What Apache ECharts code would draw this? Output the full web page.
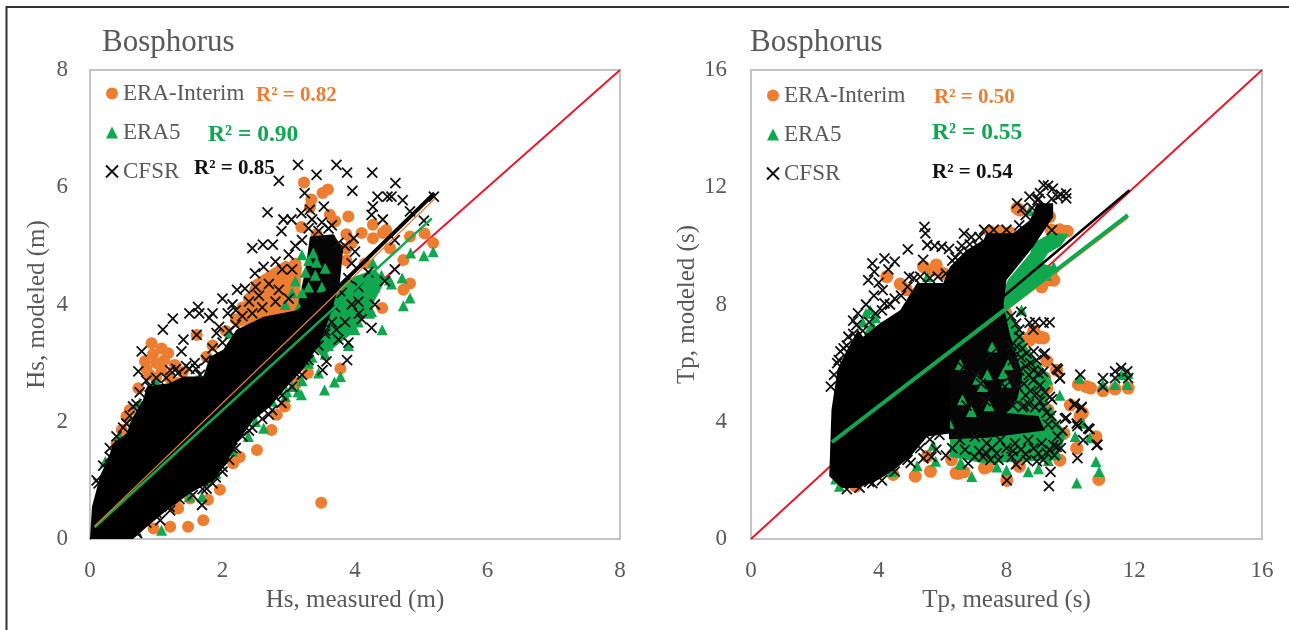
<!DOCTYPE html>
<html>
<head>
<meta charset="utf-8">
<style>
  html, body { margin: 0; padding: 0; background: #fff; }
  #chart { width: 1289px; height: 630px; filter: blur(0.4px); }
</style>
<script src="https://cdn.jsdelivr.net/npm/echarts@6/dist/echarts.min.js"></script>
</head>
<body>
<div id="chart"></div>
<script>
// Values, [measured, modeled]
const seriesNames = ['ERA-Interim', 'ERA5', 'CFSR'];
const hsTicks = [0, 2, 4, 6, 8];
const tpTicks = [0, 4, 8, 12, 16];

const hsEraInterim = [
  [3.23,6.08],[3.51,5.9],[3.59,5.96],[3.34,5.79],[3.32,5.66],[3.9,5.5],[3.62,5.53],[3.7,5.42],[3.19,5.32],[4.1,5.22],
  [4.27,5.36],[4.47,5.27],[4.27,5.13],[4.53,4.96],[5.05,5.21],[5.18,5.05],[4.83,5.16],[4.73,4.76],[4.83,4.36],[4.73,4.25],
  [4.41,3.94],[3.87,5.2],[3.95,5.05],[3.87,4.95],[3.87,4.75],[3.42,5.2],[4.42,5.22],[4.15,4.7],[3.0,4.62],[2.9,4.4],
  [3.1,4.7],[2.95,4.55],[3.05,4.45],[2.75,4.4],[2.55,4.2],[2.72,4.05],[2.45,3.95],[2.6,4.35],[2.4,4.1],[2.65,4.15],
  [3.49,0.62],[2.52,1.52],[2.74,1.86],[2.82,2.12],[2.94,2.26],[3.12,2.66],[2.26,1.4],[2.16,1.29],[1.96,0.84],[1.71,0.32],
  [1.48,0.21],[1.78,0.67],[1.51,0.69],[1.33,0.52],[1.28,0.64],[1.21,0.21],[0.96,0.18],[3.78,2.91],[3.49,3.27],[3.29,2.83],
  [0.93,3.34],[1.08,3.25],[1.18,3.17],[0.83,3.03],[1.0,3.0],[0.9,2.8],[1.08,2.88],[0.73,2.57],[1.28,2.97],[1.31,2.66],
  [0.95,3.15],[0.85,2.9],[1.12,3.05],[1.0,2.75],[1.2,2.75],[1.4,2.85],[0.55,2.09],[0.48,1.86],[0.4,1.63],[0.6,2.2],
  [1.76,3.11],[1.61,3.48],[1.85,3.3],[2.05,3.55],[2.2,3.75],[2.3,3.95]
];
const hsEra5 = [
  [5.18,4.9],[5.04,4.83],[4.84,4.88],[4.71,4.45],[4.83,4.11],[4.73,3.98],[4.52,4.42],[4.27,4.71],[4.25,3.88],[4.0,3.85],
  [4.22,3.85],[4.41,3.57],[4.0,3.57],[4.55,4.35],[4.3,4.3],[4.4,4.5],[4.1,4.2],[3.95,4.1],[4.2,4.35],[4.05,3.7],
  [3.37,4.88],[3.3,4.75],[3.2,4.85],[3.25,4.55],[3.1,4.4],[3.05,4.2],[3.2,4.2],[3.4,4.5],[3.5,4.3],[3.6,4.15],
  [3.3,4.3],[3.7,3.95],[3.85,3.9],[3.15,3.95],[3.45,4.05],[2.95,4.0],[3.55,4.62],[3.42,4.72],
  [3.54,2.54],[3.78,2.77],[3.69,2.68],[3.19,2.46],[2.95,2.43],[3.05,2.6],[3.14,2.51],[2.97,2.51],[2.62,1.89],[2.39,1.75],
  [0.23,1.32],[3.45,2.83],[1.08,0.15],[0.7,0.15],[1.69,0.72],[1.76,1.0],[0.75,2.32],[0.65,2.0],[2.11,3.51],[1.0,2.68],
  [1.6,2.71],[3.04,2.83],[3.27,3.45],[3.3,3.0],[3.55,3.15],[2.85,2.55],[3.2,2.7],[0.2,1.1],[0.45,1.75],[1.5,0.72],
  [1.9,1.12],[2.15,1.5],[2.5,2.0],[2.75,2.35],[3.35,3.1],[3.6,3.3],[3.72,3.55],[3.9,3.3]
];
const hsCfsr = [
  [3.14,6.38],[3.72,6.38],[3.42,6.21],[3.88,6.25],[4.26,6.25],[2.85,6.11],[4.61,6.07],[3.96,5.94],[3.24,5.9],[4.34,5.84],
  [4.49,5.84],[4.55,5.84],[4.72,5.78],[5.19,5.84],[3.53,5.67],[4.27,5.67],[4.25,5.53],[4.42,5.45],[5.04,5.43],[4.83,5.59],
  [2.68,5.57],[3.32,5.62],[3.19,5.56],[2.92,5.45],[3.04,5.45],[2.89,5.25],[2.45,4.96],[2.61,5.02],[2.76,5.02],[3.98,5.13],
  [3.35,5.45],[3.5,5.4],[3.65,5.35],[3.3,5.3],[3.45,5.25],[3.6,5.3],[3.75,5.05],[3.85,5.0],[3.2,5.1],[3.1,5.0],
  [3.0,4.85],[2.9,4.6],[3.95,4.7],[3.9,4.45],[4.0,4.9],[3.05,4.6],[2.8,4.73],[2.7,4.35],[2.62,4.64],[2.49,4.53],
  [2.5,4.3],[2.34,4.27],[2.22,4.25],[2.0,4.1],[2.55,4.15],[2.4,4.05],[2.85,4.25],[2.15,4.0],[1.85,3.85],
  [1.25,3.76],[1.5,3.85],[1.63,3.96],[1.65,3.85],[1.8,3.77],[2.08,3.85],[1.1,3.57],[1.41,3.4],[1.38,3.2],[0.78,3.2],
  [0.73,2.86],[1.61,3.48],[1.91,3.51],[1.58,3.0],[1.21,2.88],[1.33,2.83],[1.66,2.8],[1.5,2.9],[0.9,2.6],[1.03,2.57],
  [0.65,2.26],[0.55,1.97],[0.13,0.95],[1.76,0.86],[1.69,0.58],[1.21,0.49],[1.06,0.32],[0.71,0.1],[0.45,1.6],[0.3,1.4],
  [3.88,3.05],[3.57,3.03],[3.51,2.88],[3.72,3.57],[4.06,3.85],[3.23,3.05],[3.38,3.22],[3.1,2.83],[2.89,2.32],[2.7,2.12],
  [2.4,1.85],[2.15,1.55],[2.0,1.23],[1.9,1.05],[4.2,4.55],[4.05,4.3],[4.6,4.6],[4.25,3.6],[3.9,3.35],[3.75,3.4],
  [3.55,3.55],[3.4,3.4],[3.85,3.7],[4.05,4.05],[4.45,4.4],[4.6,5.1],[4.3,4.0],
  // upper edge of the cloud
  [0.1,1.0],[0.2,1.25],[0.3,1.55],[0.4,1.75],[0.5,1.9],[0.6,2.1],[0.7,2.3],[0.75,2.5],[0.85,2.7],[1.0,2.75],
  [1.15,2.75],[1.3,2.9],[1.45,2.95],[1.6,2.9],[1.75,3.05],[1.85,3.25],[2.0,3.35],[2.1,3.55],[2.2,3.65],[2.3,3.8],
  [2.45,3.85],[2.6,3.95],[2.8,4.05],[3.0,4.1],[1.95,3.62],[2.2,3.9],
  // lower edge of the cloud
  [0.7,0.12],[0.85,0.28],[1.0,0.45],[1.2,0.55],[1.35,0.68],[1.55,0.75],[1.7,0.85],[1.85,0.95],[2.0,1.15],[2.1,1.35],
  [2.2,1.55],[2.3,1.75],[2.45,1.9],[2.6,2.05],[2.75,2.2],[2.9,2.45],[3.05,2.6],[3.2,2.8],[3.3,3.05],[3.45,3.3],
  [3.55,3.5],[3.65,3.7],[3.7,3.95],[3.8,4.2],[3.95,4.0],[4.1,3.75]
];
// outlines of the saturated parts of the cloud, where single marks cannot be told apart
const hsCore = [
  [0,0],[0.03,0.55],[0.15,1.06],[0.3,1.46],[0.35,1.63],[0.55,1.8],[0.65,2.09],[0.8,2.37],[0.86,2.6],[1.21,2.66],
  [1.41,2.77],[1.71,2.77],[1.81,3.11],[2.01,3.23],[2.21,3.57],[2.62,3.79],[3.12,3.9],[3.4,4.15],[3.77,4.36],[3.62,3.8],
  [3.47,3.34],[3.22,2.9],[3.02,2.66],[2.72,2.26],[2.47,2.03],[2.21,1.63],[2.06,1.29],[1.86,1.0],[1.51,0.78],[1.16,0.49],
  [0.86,0.21],[0.65,0]
];
const hsUpperDark = [[3.12,3.9],[3.25,4.59],[3.32,5.16],[3.68,5.2],[3.82,4.93],[3.77,4.36],[3.52,4.08]];
const hsUpperOrange = [[2.2,3.6],[2.45,4.4],[2.95,4.75],[3.2,4.65],[3.15,3.9]];
const hsLowerGreen = [[3.3,3.4],[3.8,4.4],[4.3,4.6],[4.45,4.4],[4.2,3.85],[3.95,3.5],[3.5,3.1]];

const tpEraInterim = [
  [10.89,2.03],[10.2,3.1],[9.67,2.69],[10.8,3.49],[10.5,5.2],[10.25,5.27],[10.63,5.15],[11.02,5.06],[11.4,5.12],[11.81,5.15],
  [10.38,4.3],[10.0,4.57],[10.3,4.2],[9.05,6.86],[9.16,6.86],[8.73,6.79],[8.47,6.73],[9.26,6.07],[9.57,5.76],[9.26,5.14],
  [6.42,2.25],[6.67,2.29],[6.5,2.24],[7.37,2.48],[7.4,2.47],[5.14,2.14],[5.62,2.31],[3.28,1.8],[8.01,2.0],[8.4,2.48],
  [6.28,2.7],[5.52,2.82],[7.31,2.42],[4.45,2.2],[9.48,8.83],[9.36,8.84],[9.1,8.6],[9.4,9.06],[8.33,11.28],[8.42,11.22],
  [9.67,10.55],[9.9,10.5],[9.4,10.54],[7.48,10.49],[7.79,10.49],[8.1,10.45],[5.7,9.18],[5.4,9.29],[6.02,9.06],[5.8,9.35],
  [4.25,8.95],[4.67,8.7],[4.87,8.5],[9.35,11],[7.98,7.7],[7.8,7.25],[9.05,6.89],[8.74,6.89],[8.85,7.1],[9.2,5.5],[9.3,4.4],[9.8,3.6]
];
const tpEra5 = [
  [10.2,1.91],[10.9,2.3],[10.8,2.64],[6.91,2.13],[8.0,2.35],[8.68,2.29],[9.0,2.4],[7.7,2.46],[9.31,2.68],[6.55,2.58],
  [9.57,2.92],[10.15,3.5],[10.6,3.45],[9.67,4.9],[9.36,4.4],[9.3,5.45],[8.47,7.81],[10.28,5.48],[11.78,5.27],[11.4,5.27],
  [11.02,5.27],[11.6,5.6],[11.8,5.65],[6.03,4.02],[5.9,3.95],[6.2,3.95],[2.77,1.8],[5.78,2.65],[6.6,2.54],[3.73,7.81],
  [3.5,7.4],[3.8,7.3],[3.6,7.7],[3.9,7.55],[3.7,7.15],[9.48,9.29],[8.72,11.2],[5.52,8.95],[9.25,9.0],
  [7.1,5.45],[7.25,5.2],[7.4,5.6],[8.0,5.35],[8.05,5.95],[7.9,5.65],[8.42,4.5],[8.6,4.72],[6.62,4.75],[6.9,4.35],
  [6.55,5.95],[7.55,6.55],[7.45,4.55],[6.5,3.2],[5.7,3.2],[4.4,2.3],[5.2,2.5],[3.2,1.95],[8.35,6.65],[10.4,3.95],[2.65,2.05]
];
const tpCfsr = [
  [9.33,1.8],[9.38,2.29],[10.22,2.76],[8.01,2.0],[10.85,3.22],[10.6,3.75],[10.22,3.85],[9.87,4.13],[10.12,4.58],[10.34,4.47],
  [10.31,5.61],[11.02,5.49],[11.02,5.2],[11.4,5.49],[11.59,5.84],[11.78,5.72],[11.4,5.72],[11.81,5.49],[9.67,5.49],[9.61,5.78],
  [9.42,4.76],[9.16,6.29],[8.72,7.37],[8.4,7.14],[9.16,7.37],[9.35,7.39],[8.84,7.14],[2.8,6.4],[3.8,1.91],
  [9.16,12.07],[9.3,12.05],[9.45,11.95],[9.87,11.79],[9.87,11.62],[9.7,11.75],[8.72,11.68],[8.33,11.45],[8.5,11.3],[8.97,11.56],
  [9.42,11.6],[9.6,11.68],[9.1,11.2],[9.42,10.54],[9.05,11.8],[5.43,10.65],[5.46,10.43],[5.52,10.03],[5.75,10.0],[5.97,9.97],
  [6.2,9.9],[4.91,9.88],[5.39,9.52],[6.67,10.43],[6.9,10.3],[6.6,10.0],[6.4,9.6],[7.1,10.0],[4.18,9.57],[4.5,9.46],
  [3.8,9.4],[3.67,8.83],[3.86,9.12],[4.12,8.49],[4.18,8.04],[4.0,8.75],[4.3,9.2],[4.95,8.95],[3.35,7.7],[3.6,8.0],
  [3.85,8.3],[3.2,7.45],[8.46,7.75],[8.9,7.4],[3.0,6.6],[2.7,6.0],[3.2,7.0],[8.15,7.6],[8.3,7.35],
  // upper edge of the cloud
  [2.5,5.2],[2.6,5.6],[2.75,6.1],[2.9,6.5],[3.05,6.9],[3.3,7.3],[3.5,7.1],[3.7,7.4],[3.9,7.7],[4.1,7.8],
  [4.35,8.0],[4.5,8.2],[4.7,8.3],[4.9,8.6],[5.1,8.9],[5.3,8.95],[5.6,8.9],[5.85,8.95],[6.1,9.05],[6.3,9.5],
  [6.55,9.8],[6.85,10.05],[7.15,10.3],[7.3,10.55],[7.6,10.55],[8.0,10.55],[8.4,10.7],[8.6,11.05],[8.8,11.3],[9.0,11.6],
  // lower edge of the cloud
  [3.0,1.7],[3.4,1.75],[3.7,1.95],[4.1,2.0],[4.5,2.3],[4.9,2.7],[5.3,3.1],[5.6,3.4],[5.9,3.55],
  [8.32,6.56],[8.63,6.33],[8.94,6.1],[9.2,6.33],[9.15,5.7],[9.57,5.82],[9.67,5.48],[8.84,5.42],[8.94,4.96],[9.36,4.85],
  [9.15,4.51],[10.14,4.62],[10.35,4.51],[9.83,4.11],[10.2,3.94],[10.56,3.77],[10.82,3.2],[10.4,3.37],[9.57,3.14],[8.6,5.9],
  [8.6,4.9],[8.7,5.6],[8.9,4.5],[8.5,4.5],[8.2,4.55],[9.4,4.2],[9.55,3.9],[9.3,3.9],[9.75,3.7],[6.54,3.37],
  [7.01,3.49],[7.38,3.26],[7.8,3.37],[8.27,3.26],[8.68,3.37],[9.1,3.26],[9.47,3.2],[6.8,2.58],[7.27,2.8],[7.69,2.92],
  [8.16,2.8],[8.63,2.69],[9.0,2.92],[9.36,3.03],[6.3,3.1],[6.7,3.05],[7.15,3.0],[7.55,3.1],[8.0,3.1],[8.45,3.05],
  [8.85,3.1],[6.1,2.85],[5.8,3.05],[5.4,2.75],[5.0,2.6],[5.65,2.8],[7.0,2.8],[7.5,2.7],[8.3,2.55],[9.15,2.7],
  [7.2,5.3],[7.05,5.6],[8.1,5.55],[7.95,5.2],[8.55,4.55],[6.75,4.55],[7.35,4.7],[6.65,5.85],[7.5,6.3],[8.2,6.1],
  [7.35,2.95],[7.75,2.7],[8.2,3.0],[8.6,2.9],[8.95,2.65],[9.25,2.95],[9.5,2.85],[8.4,6.9],[8.15,6.6],[8.45,6.2],
  [8.75,6.0],[8.55,5.3],[8.75,5.05],[9.05,5.25],[9.0,5.65],[8.85,5.75],[9.2,5.0],[9.05,4.7],[8.7,4.6],[9.25,4.3],
  [9.6,3.5],[9.7,3.1],[8.4,5.75],[8.35,5.2],[8.5,6.5],[8.85,6.4]
];
const tpCore = [
  [2.45,2.14],[2.84,1.74],[3.35,1.74],[3.99,2.02],[4.5,2.37],[5.0,2.82],[5.52,3.5],[6.23,3.6],[6.23,6.5],[7.9,7.95],
  [8.0,8.84],[8.84,9.97],[9.26,10.66],[9.46,10.98],[9.46,11.45],[8.95,11.45],[8.74,10.88],[8.21,10.43],[7.38,10.43],[7.28,10.2],
  [6.75,9.86],[6.23,9.29],[6.02,8.73],[5.2,8.73],[4.67,7.8],[4.04,7.36],[3.51,6.9],[3.35,7.14],[2.96,6.35],[2.71,5.78],[2.52,4.41]
];
// mixed part below the trend lines: a green ground, with a darker patch over it
const tpMidGreen = [
  [6.23,6.6],[7.2,7.5],[7.9,8.0],[8.3,7.4],[8.63,6.56],[9.36,5.54],[9.26,4.51],[9.88,3.6],[9.57,2.69],[7.27,2.58],[6.23,2.81]
];
const tpMidDark = [
  [6.2,6.6],[7.2,7.5],[7.9,8.0],[8.1,7.0],[8.3,6.3],[8.5,5.6],[8.35,4.8],[8.0,4.3],[9.0,4.2],[9.2,3.7],[7.4,3.45],[6.2,3.4]
];
const tpUpperGreen = [
  [7.7,7.95],[8.05,8.85],[8.74,9.75],[8.84,10.1],[9.4,10.45],[9.95,10.4],[9.7,10.0],[9.3,9.75],[9.1,9.4],[9.45,9.3],[9.3,8.85],[8.8,8.6],[8.2,8.0]
];

// trend lines and 1:1 lines
const hsOneToOne = [[0,0],[8,8]];
const hsTrendInterim = [[0.07,0.22],[5.2,5.8]];
const hsTrendEra5 = [[0.07,0.2],[5.16,5.47]];
const hsTrendCfsr = [[0.07,0.24],[5.2,5.9]];
const tpOneToOne = [[0,0],[16,16]];
const tpTrendInterim = [[2.54,3.29],[11.8,10.95]];
const tpTrendEra5 = [[2.54,3.31],[11.8,11.05]];
const tpTrendCfsr = [[2.54,3.35],[11.85,11.9]];

const textColor = '#595959';
const serif = '"Liberation Serif", serif';
const crossPath = 'path://M0 0L10 10M10 0L0 10';

function makeAxis(gridIndex, ticks, name, nameGap, margin) {
  return {
    type: 'value',
    gridIndex: gridIndex,
    min: ticks[0],
    max: ticks[ticks.length - 1],
    interval: ticks[1] - ticks[0],
    name: name,
    nameLocation: 'middle',
    nameGap: nameGap,
    nameTextStyle: { fontFamily: serif, fontSize: 25, color: textColor },
    axisLine: { show: false },
    axisTick: { show: false },
    splitLine: { show: false },
    axisLabel: { fontFamily: serif, fontSize: 23, color: textColor, margin: margin }
  };
}

function lineSeries(gridIndex, data, color, width, z) {
  return {
    type: 'line',
    xAxisIndex: gridIndex,
    yAxisIndex: gridIndex,
    data: data,
    showSymbol: false,
    silent: true,
    z: z,
    lineStyle: { color: color, width: width }
  };
}

// filled outline, placed through the axes
function blobSeries(gridIndex, outline, fill, z) {
  return {
    type: 'custom',
    xAxisIndex: gridIndex,
    yAxisIndex: gridIndex,
    silent: true,
    z: z,
    data: outline,
    renderItem: function (params, api) {
      if (params.dataIndex !== 0) return null;
      return {
        type: 'polygon',
        shape: { points: outline.map(p => api.coord(p)) },
        style: { fill: fill }
      };
    }
  };
}

function panelSeries(gridIndex, interim, era5, cfsr, trends, oneToOne, circleSize) {
  return [
    lineSeries(gridIndex, oneToOne, '#e8192c', 2, 1),
    {
      name: seriesNames[0], type: 'scatter', xAxisIndex: gridIndex, yAxisIndex: gridIndex,
      data: interim, symbol: 'circle', symbolSize: circleSize, z: 2,
      itemStyle: { color: '#ed7d31', opacity: 1 }
    },
    {
      name: seriesNames[1], type: 'scatter', xAxisIndex: gridIndex, yAxisIndex: gridIndex,
      data: era5, symbol: 'triangle', symbolSize: 11, z: 3,
      itemStyle: { color: '#0fa84f', opacity: 1 }
    },
    {
      name: seriesNames[2], type: 'scatter', xAxisIndex: gridIndex, yAxisIndex: gridIndex,
      data: cfsr, symbol: crossPath, symbolSize: 10, z: 4,
      itemStyle: { color: 'transparent', borderColor: '#111', borderWidth: 1.8, opacity: 1 }
    },
    lineSeries(gridIndex, trends[2], '#000', gridIndex === 0 ? 4 : 2.5, 6),
    lineSeries(gridIndex, trends[1], '#0fa84f', gridIndex === 0 ? 2.5 : 4, 7),
    lineSeries(gridIndex, trends[0], '#ed7d31', 1.3, gridIndex === 0 ? 8 : 6)
  ];
}

function makeLegend(left, top) {
  return {
    orient: 'vertical',
    left: left,
    top: top,
    padding: 0,
    itemGap: 16,
    itemWidth: 12,
    itemHeight: 12,
    selectedMode: false,
    textStyle: { fontFamily: serif, fontSize: 23, color: textColor },
    data: [
      { name: seriesNames[0], icon: 'circle' },
      { name: seriesNames[1], icon: 'triangle' },
      { name: seriesNames[2], icon: crossPath }
    ]
  };
}

function r2Label(text, left, middle, color, size) {
  return {
    type: 'text',
    left: left,
    top: middle - size / 2,
    z: 20,
    style: { text: text, fill: color, font: 'bold ' + size + 'px ' + serif }
  };
}

const chart = echarts.init(document.getElementById('chart'));
chart.setOption({
  backgroundColor: '#fff',
  animation: false,
  title: [
    { text: 'Bosphorus', left: 97, top: 22, textStyle: { fontFamily: serif, fontSize: 31, fontWeight: 'normal', color: textColor } },
    { text: 'Bosphorus', left: 745, top: 22, textStyle: { fontFamily: serif, fontSize: 31, fontWeight: 'normal', color: textColor } }
  ],
  legend: [makeLegend(105, 82), makeLegend(766, 84)],
  grid: [
    { left: 90, top: 70, width: 530, height: 469, show: true, borderColor: '#c4c4c4', borderWidth: 2, backgroundColor: '#fff' },
    { left: 751, top: 70, width: 511, height: 469, show: true, borderColor: '#c4c4c4', borderWidth: 2, backgroundColor: '#fff' }
  ],
  xAxis: [
    makeAxis(0, hsTicks, 'Hs, measured (m)', 49, 20),
    makeAxis(1, tpTicks, 'Tp, measured (s)', 49, 20)
  ],
  yAxis: [
    makeAxis(0, hsTicks, 'Hs, modeled (m)', 40, 22),
    makeAxis(1, tpTicks, 'Tp, modeled (s)', 51, 24)
  ],
  series: [].concat(
    panelSeries(0, hsEraInterim, hsEra5, hsCfsr, [hsTrendInterim, hsTrendEra5, hsTrendCfsr], hsOneToOne, 12),
    panelSeries(1, tpEraInterim, tpEra5, tpCfsr, [tpTrendInterim, tpTrendEra5, tpTrendCfsr], tpOneToOne, 13),
    [
      blobSeries(0, hsUpperOrange, '#ed7d31', 1.5),
      blobSeries(0, hsLowerGreen, '#0fa84f', 2.4),
      blobSeries(0, hsUpperDark, '#050505', 2.6),
      blobSeries(0, hsCore, '#000', 5),
      blobSeries(1, tpMidGreen, '#0fa84f', 2.4),
      blobSeries(1, tpMidDark, '#050505', 2.6),
      blobSeries(1, tpUpperGreen, '#0fa84f', 2.5),
      blobSeries(1, tpCore, '#000', 5)
    ]
  ),
  graphic: [
    // thin frame of the original figure, top and left only
    { type: 'polyline', z: 0, shape: { points: [[6.5, 630], [6.5, 7], [1289, 7]] }, style: { stroke: '#333', lineWidth: 2, fill: null } },
    r2Label('R² = 0.82', 256, 96, '#ed7d31', 21),
    r2Label('R² = 0.90', 208, 135, '#0fa84f', 23.5),
    r2Label('R² = 0.85', 194, 169, '#111', 21),
    r2Label('R² = 0.50', 934, 98, '#ed7d31', 21),
    r2Label('R² = 0.55', 932, 133, '#0fa84f', 23.5),
    r2Label('R² = 0.54', 932, 173, '#111', 21)
  ]
});
</script>
</body>
</html>
